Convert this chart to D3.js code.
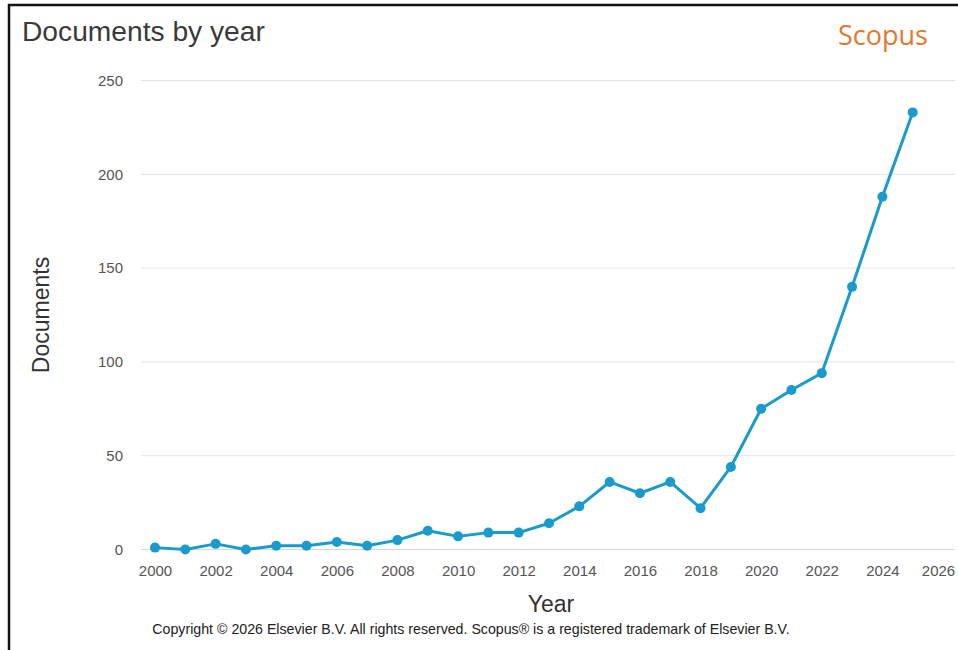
<!DOCTYPE html>
<html>
<head>
<meta charset="utf-8">
<script src="https://cdn.jsdelivr.net/npm/d3@7"></script>
<style>
  body { margin: 0; background: #fff; }
  svg { display: block; font-family: "Liberation Sans", Arial, sans-serif; }
</style>
</head>
<body>
<div id="chart"></div>
<script>
var years = [2000, 2001, 2002, 2003, 2004, 2005, 2006, 2007, 2008, 2009, 2010, 2011, 2012,
             2013, 2014, 2015, 2016, 2017, 2018, 2019, 2020, 2021, 2022, 2023, 2024, 2025];
var documents = [1, 0, 3, 0, 2, 2, 4, 2, 5, 10, 7, 9, 9,
                 14, 23, 36, 30, 36, 22, 44, 75, 85, 94, 140, 188, 233];
var yTicks = [0, 50, 100, 150, 200, 250];
var xTicks = [2000, 2002, 2004, 2006, 2008, 2010, 2012, 2014, 2016, 2018, 2020, 2022, 2024, 2026];

var width = 958, height = 650;
var data = years.map(function(y, i) { return {year: y, docs: documents[i]}; });

var svg = d3.select("#chart").append("svg")
    .attr("width", width)
    .attr("height", height);

// frame
svg.append("path")
    .attr("d", "M9,650 L9,5 L958,5")
    .attr("fill", "none")
    .attr("stroke", "#111")
    .attr("stroke-width", 2.5);

var x = d3.scaleLinear().domain([2000, 2026]).range([155, 943]);
var y = d3.scaleLinear().domain([0, 250]).range([549.5, 80.5]);

// grid
svg.append("g").selectAll("line")
    .data(yTicks)
    .enter().append("line")
    .attr("x1", 141)
    .attr("x2", 955)
    .attr("y1", function(d) { return y(d); })
    .attr("y2", function(d) { return y(d); })
    .attr("stroke", function(d) { return d === 0 ? "#d4d8e0" : "#e3e3e3"; })
    .attr("stroke-width", 1);

var yAxis = d3.axisLeft(y).tickValues(yTicks).tickSize(0).tickPadding(0);
svg.append("g")
    .attr("transform", "translate(123,0)")
    .call(yAxis)
    .call(function(g) { g.select(".domain").remove(); })
    .selectAll("text")
    .attr("font-size", 15)
    .attr("fill", "#555")
    .attr("font-family", "Liberation Sans, Arial, sans-serif");

var xAxis = d3.axisBottom(x).tickValues(xTicks).tickFormat(d3.format("d")).tickSize(0).tickPadding(0);
svg.append("g")
    .attr("transform", "translate(0,565)")
    .call(xAxis)
    .call(function(g) { g.select(".domain").remove(); })
    .selectAll("text")
    .attr("font-size", 15)
    .attr("dx", function(d) { return d === 2026 ? -5 : 0; })
    .attr("fill", "#555")
    .attr("font-family", "Liberation Sans, Arial, sans-serif");

var line = d3.line()
    .x(function(d) { return x(d.year); })
    .y(function(d) { return y(d.docs); });

svg.append("path")
    .datum(data)
    .attr("d", line)
    .attr("fill", "none")
    .attr("stroke", "#1a9bcb")
    .attr("stroke-width", 3)
    .attr("stroke-linejoin", "round");

svg.append("g").selectAll("circle")
    .data(data)
    .enter().append("circle")
    .attr("cx", function(d) { return x(d.year); })
    .attr("cy", function(d) { return y(d.docs); })
    .attr("r", 5)
    .attr("fill", "#1a9bcb");

// titles
svg.append("text")
    .attr("x", 22)
    .attr("y", 41)
    .text("Documents by year")
    .attr("font-size", 28.2)
    .attr("fill", "#3a3a3a");

svg.append("text")
    .attr("x", 928)
    .attr("y", 45)
    .style("text-anchor", "end")
    .text("Scopus")
    .attr("font-family", "Open Sans, Lato, sans-serif")
    .attr("font-size", 27)
    .attr("fill", "#e07a2f");

svg.append("text")
    .attr("transform", "rotate(-90)")
    .attr("x", -315)
    .attr("y", 49)
    .style("text-anchor", "middle")
    .text("Documents")
    .attr("font-size", 23)
    .attr("fill", "#333");

svg.append("text")
    .attr("x", 551)
    .attr("y", 612)
    .style("text-anchor", "middle")
    .text("Year")
    .attr("font-size", 23)
    .attr("fill", "#333");

svg.append("text")
    .attr("x", 471)
    .attr("y", 634)
    .style("text-anchor", "middle")
    .text("Copyright \u00a9 2026 Elsevier B.V. All rights reserved. Scopus\u00ae is a registered trademark of Elsevier B.V.")
    .attr("font-size", 14.2)
    .attr("fill", "#222");
</script>
</body>
</html>
